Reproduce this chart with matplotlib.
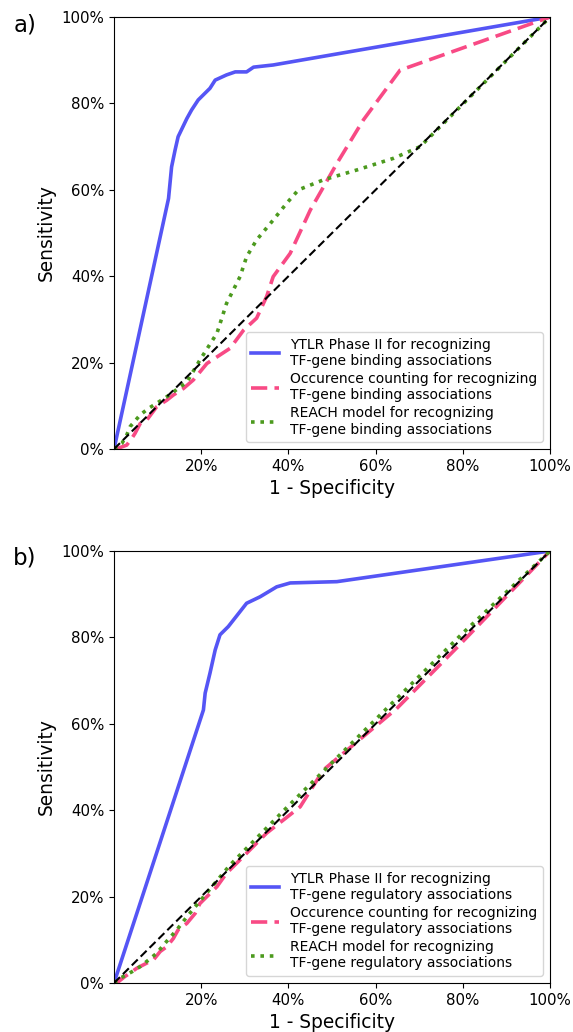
import matplotlib.pyplot as plt
from matplotlib.ticker import PercentFormatter

# panel a: binding associations (x = 1 - specificity %, y = sensitivity %)
a_ytlr_x = [0, 12.5, 13.2, 14.0, 14.7, 16.7, 17.8, 19.3, 22.0, 23.2, 25.8, 27.8, 30.4, 32.0, 36.5, 100]
a_ytlr_y = [0, 58.0, 65.3, 69.2, 72.3, 76.5, 78.5, 80.8, 83.5, 85.4, 86.6, 87.3, 87.3, 88.4, 88.9, 100]

a_occ_x = [0, 1.0, 2.9, 4.1, 4.8, 6.0, 7.5, 9.8, 12.1, 13.6, 15.9, 18.2, 21.3, 26.6, 29.7, 32.7,
           35.0, 36.5, 40.4, 45.0, 51.1, 57.2, 65.6, 100]
a_occ_y = [0, 0.2, 0.9, 2.5, 3.6, 5.9, 6.7, 9.8, 11.3, 12.5, 14.0, 16.0, 19.8, 23.3, 27.5, 30.3,
           35.3, 39.9, 45.3, 55.3, 66.1, 76.2, 87.7, 100]

a_reach_x = [0, 1.8, 2.9, 3.7, 6.0, 7.9, 9.8, 12.1, 16.7, 19.7, 23.6, 25.8, 28.9, 30.4, 32.7,
             36.5, 39.6, 42.3, 48.0, 55.7, 64.1, 70.2, 100]
a_reach_y = [0, 1.3, 3.2, 5.2, 7.9, 9.4, 10.6, 12.1, 15.5, 20.6, 26.8, 33.7, 39.9, 44.5, 48.4,
             53.0, 56.9, 60.0, 62.3, 64.6, 67.3, 70.0, 100]

# panel b: regulatory associations
b_ytlr_x = [0, 20.5, 20.9, 22.0, 23.2, 24.3, 26.2, 30.4, 33.5, 37.3, 40.4, 51.1, 100]
b_ytlr_y = [0, 63.2, 67.1, 71.7, 77.1, 80.6, 82.5, 87.9, 89.4, 91.7, 92.6, 92.9, 100]

b_occ_x = [0, 1.0, 2.5, 4.1, 5.2, 7.5, 9.0, 10.6, 12.1, 13.6, 14.7, 16.7, 18.6, 19.7, 23.6,
           25.8, 28.1, 35.0, 38.8, 42.7, 48.0, 64.8, 78.6, 100]
b_occ_y = [0, 0.3, 1.5, 2.6, 3.4, 4.6, 5.3, 7.3, 8.4, 10.3, 12.3, 13.8, 16.1, 18.4, 22.3,
           25.4, 27.7, 34.7, 37.7, 40.8, 49.3, 63.5, 77.6, 100]

b_reach_x = [0, 1.4, 4.1, 6.0, 7.9, 9.8, 11.7, 14.4, 16.7, 19.0, 26.6, 40.0, 60.0, 80.0, 100]
b_reach_y = [0, 1.1, 2.6, 3.8, 5.3, 6.9, 9.2, 12.3, 15.3, 18.1, 27.3, 41.0, 61.0, 81.0, 100]

panels = [
    ('a)', 'binding', a_ytlr_x, a_ytlr_y, a_occ_x, a_occ_y, a_reach_x, a_reach_y),
    ('b)', 'regulatory', b_ytlr_x, b_ytlr_y, b_occ_x, b_occ_y, b_reach_x, b_reach_y),
]

fig = plt.figure(figsize=(5.73, 10.32), dpi=100)
axes = [fig.add_axes([0.199, 0.5649, 0.761, 0.4186]),
        fig.add_axes([0.199, 0.0475, 0.761, 0.4186])]

for ax, (tag, kind, yx, yy, ox, oy, rx, ry) in zip(axes, panels):
    ax.plot(yx, yy, color='#5555f5', lw=2.6,
            label='YTLR Phase II for recognizing\nTF-gene %s associations' % kind)
    ax.plot(ox, oy, color='#f84a85', lw=2.6, linestyle=(0, (4.5, 2)),
            label='Occurence counting for recognizing\nTF-gene %s associations' % kind)
    ax.plot(rx, ry, color='#4c9a1e', lw=2.6, linestyle=(0, (1, 1.6)),
            label='REACH model for recognizing\nTF-gene %s associations' % kind)
    ax.plot([0, 100], [0, 100], color='black', lw=1.5, linestyle=(0, (4, 2)))
    ax.set_xlim(0, 100)
    ax.set_ylim(0, 100)
    ax.set_xticks([20, 40, 60, 80, 100])
    ax.set_yticks([0, 20, 40, 60, 80, 100])
    ax.xaxis.set_major_formatter(PercentFormatter(decimals=0))
    ax.yaxis.set_major_formatter(PercentFormatter(decimals=0))
    ax.tick_params(labelsize=10.8)
    ax.set_xlabel('1 - Specificity', fontsize=13.4)
    ax.set_ylabel('Sensitivity', fontsize=13.4)
    ax.legend(loc='lower right', fontsize=10, handlelength=2, labelspacing=0.3,
              borderaxespad=0.5)

fig.text(0.023, 0.976, 'a)', fontsize=16.5, va='center')
fig.text(0.023, 0.4593, 'b)', fontsize=16.5, va='center')

fig.savefig('out.png', dpi=100)
